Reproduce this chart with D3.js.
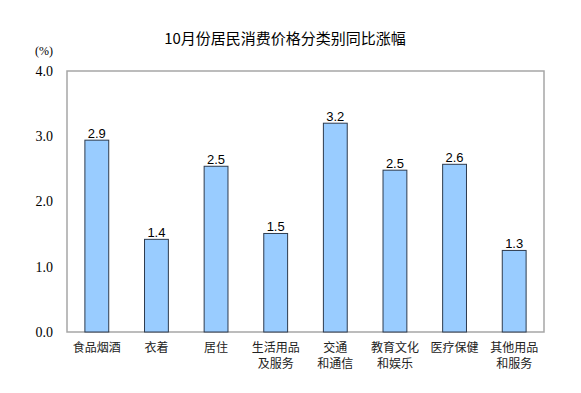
<!DOCTYPE html>
<html>
<head>
<meta charset="utf-8">
<script src="https://cdn.jsdelivr.net/npm/d3@7"></script>
<style>
  body { margin: 0; background: #fff; }
</style>
</head>
<body>
<div id="app"></div>
<script>
const title = "10月份居民消费价格分类别同比涨幅";
const categories = [
  ["食品烟酒"],
  ["衣着"],
  ["居住"],
  ["生活用品", "及服务"],
  ["交通", "和通信"],
  ["教育文化", "和娱乐"],
  ["医疗保健"],
  ["其他用品", "和服务"]
];
const values = [2.94, 1.42, 2.54, 1.51, 3.20, 2.48, 2.57, 1.25];
const valueLabels = ["2.9", "1.4", "2.5", "1.5", "3.2", "2.5", "2.6", "1.3"];
const yTicks = [0, 1, 2, 3, 4];

const width = 581, height = 393;
const plot = { left: 67, right: 544, top: 71, bottom: 332 };

const svg = d3.select("#app")
  .append("svg")
  .attr("width", width)
  .attr("height", height);

const x = d3.scaleBand()
  .domain(d3.range(categories.length))
  .range([plot.left, plot.right])
  .paddingInner(0.6)
  .paddingOuter(0.3);

const y = d3.scaleLinear()
  .domain([0, 4])
  .range([plot.bottom, plot.top]);

// title
svg.append("text")
  .attr("x", 285)
  .attr("y", 44)
  .attr("text-anchor", "middle")
  .style("font-family", "'Noto Sans CJK SC', sans-serif")
  .style("font-size", "15px")
  .text(title);

// unit
svg.append("text")
  .attr("x", 44)
  .attr("y", 55)
  .attr("text-anchor", "middle")
  .style("font-family", "'Liberation Serif', serif")
  .style("font-size", "12px")
  .text("(%)");

// y axis labels (no tick lines)
const yAxis = svg.append("g")
  .attr("transform", `translate(${plot.left},0)`)
  .call(d3.axisLeft(y).tickValues(yTicks).tickFormat(d3.format(".1f")).tickSize(0).tickPadding(14));
yAxis.select(".domain").remove();
yAxis.selectAll("text")
  .style("font-family", "'Liberation Serif', serif")
  .style("font-size", "14px")
  .attr("fill", "#000");

// plot frame
svg.append("rect")
  .attr("x", plot.left)
  .attr("y", plot.top)
  .attr("width", plot.right - plot.left)
  .attr("height", plot.bottom - plot.top)
  .attr("fill", "none")
  .attr("stroke", "#a6a6a6")
  .attr("stroke-width", 1.5);

// bars
svg.append("g")
  .selectAll("rect")
  .data(values)
  .join("rect")
  .attr("x", (d, i) => x(i))
  .attr("y", (d) => y(d))
  .attr("width", x.bandwidth())
  .attr("height", (d) => y(0) - y(d))
  .attr("fill", "#99ccff")
  .attr("stroke", "#2e3b4e")
  .attr("stroke-width", 1);

// value labels
svg.append("g")
  .selectAll("text")
  .data(values)
  .join("text")
  .attr("x", (d, i) => x(i) + x.bandwidth() / 2)
  .attr("y", (d) => y(d) - 2)
  .attr("text-anchor", "middle")
  .style("font-family", "'Liberation Sans', Arial, sans-serif")
  .style("font-size", "13px")
  .text((d, i) => valueLabels[i]);

// category labels
const cat = svg.append("g")
  .selectAll("text")
  .data(categories)
  .join("text")
  .attr("text-anchor", "middle")
  .style("font-family", "'Noto Sans CJK SC', sans-serif")
  .style("font-size", "12px")
  .attr("fill", "#222");

cat.selectAll("tspan")
  .data((d, i) => d.map((line) => ({ line, i })))
  .join("tspan")
  .attr("x", (d) => x(d.i) + x.bandwidth() / 2)
  .attr("y", (d, j) => 352 + j * 16)
  .text((d) => d.line);
</script>
</body>
</html>
